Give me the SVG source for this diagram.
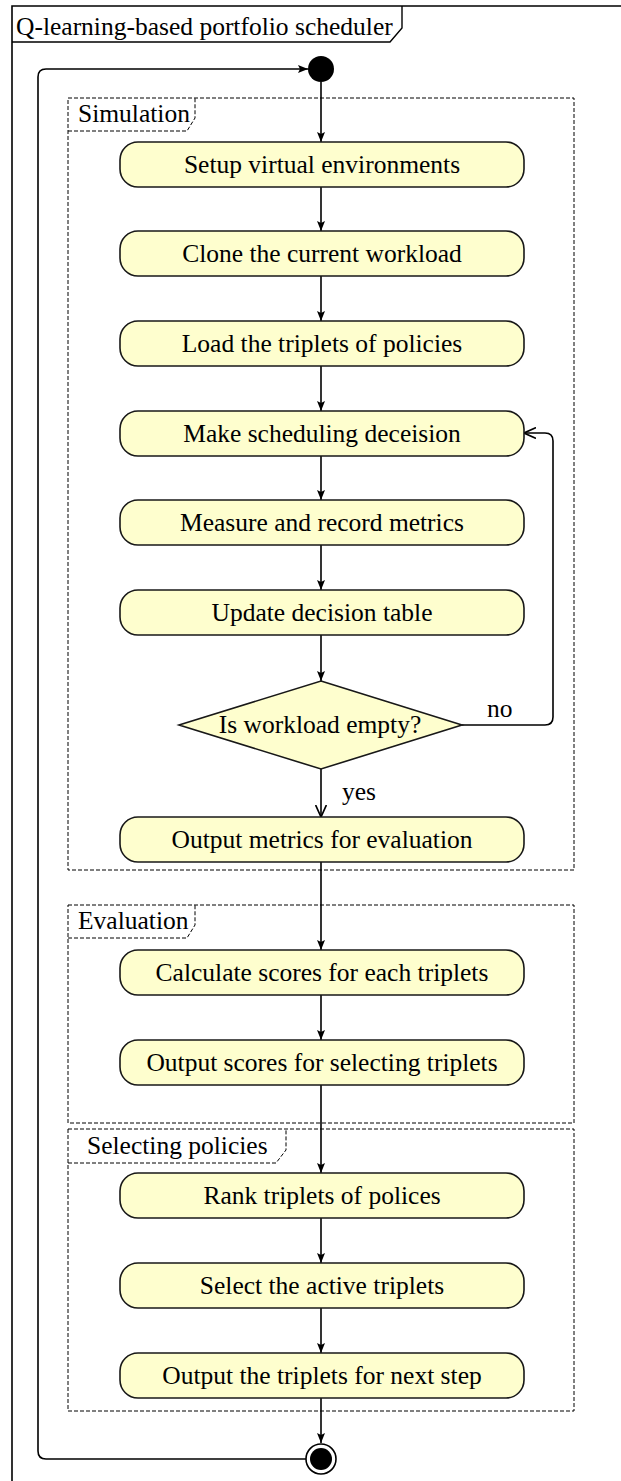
<svg xmlns="http://www.w3.org/2000/svg" width="621" height="1481" viewBox="0 0 621 1481">
<style>
text{font-family:'Liberation Serif','DejaVu Serif',serif;font-size:25.5px;fill:#000}
.n{text-anchor:middle}
.act{fill:#FEFECE;stroke:#181818;stroke-width:1.6}
.part{fill:none;stroke:#000;stroke-width:1;stroke-dasharray:4,2}
.c{fill:none;stroke:#000;stroke-width:1.6}
</style>
<defs>
<marker id="ah" viewBox="0 0 10 10" refX="10" refY="5" markerWidth="10" markerHeight="10" markerUnits="userSpaceOnUse" orient="auto">
<path d="M0,1 L10,5 L0,9 L2,5 Z" fill="#000"/>
</marker>
<marker id="av" viewBox="0 0 10 10" refX="10" refY="5" markerWidth="12" markerHeight="12" markerUnits="userSpaceOnUse" orient="auto">
<path d="M0,0.5 L10,5 L0,9.5" fill="none" stroke="#000" stroke-width="1.4"/>
</marker>
</defs>
<rect width="621" height="1481" fill="#fff"/>
<g id="frame">
<path d="M12,1481 V6 H621" fill="none" stroke="#000" stroke-width="1.6"/>
<path d="M12,42 H390 L402,28 V6" fill="none" stroke="#000" stroke-width="1.4"/>
<text x="16" y="35" font-family="Liberation Serif, serif">Q-learning-based portfolio scheduler</text>
</g>
<g id="simulation">
<rect class="part" x="68" y="98" width="506" height="772"/>
<path class="part" d="M68,131 H187 L195,118 V98"/>
<text x="78" y="122">Simulation</text>
</g>
<g id="evaluation">
<rect class="part" x="68" y="905" width="506" height="218"/>
<path class="part" d="M68,938 H187 L195,925 V905"/>
<text x="78" y="929">Evaluation</text>
</g>
<g id="selecting">
<rect class="part" x="68" y="1129" width="506" height="282"/>
<path class="part" d="M68,1163 H276 L286,1150 V1129"/>
<text x="87" y="1154">Selecting policies</text>
</g>
<g id="connectors">
<line class="c" x1="321" y1="82" x2="321" y2="142" marker-end="url(#ah)"/>
<line class="c" x1="321" y1="187" x2="321" y2="231" marker-end="url(#ah)"/>
<line class="c" x1="321" y1="276" x2="321" y2="321" marker-end="url(#ah)"/>
<line class="c" x1="321" y1="366" x2="321" y2="411" marker-end="url(#ah)"/>
<line class="c" x1="321" y1="456" x2="321" y2="500" marker-end="url(#ah)"/>
<line class="c" x1="321" y1="545" x2="321" y2="590" marker-end="url(#ah)"/>
<line class="c" x1="321" y1="635" x2="321" y2="681" marker-end="url(#ah)"/>
<line class="c" x1="321" y1="769" x2="321" y2="817" marker-end="url(#av)"/>
<path class="c" d="M462,725 H545 Q553,725 553,717 V441 Q553,433 545,433 H524" marker-end="url(#av)"/>
<line class="c" x1="321" y1="862" x2="321" y2="950" marker-end="url(#ah)"/>
<line class="c" x1="321" y1="995" x2="321" y2="1040" marker-end="url(#ah)"/>
<line class="c" x1="321" y1="1085" x2="321" y2="1173" marker-end="url(#ah)"/>
<line class="c" x1="321" y1="1218" x2="321" y2="1263" marker-end="url(#ah)"/>
<line class="c" x1="321" y1="1308" x2="321" y2="1353" marker-end="url(#ah)"/>
<line class="c" x1="321" y1="1398" x2="321" y2="1443" marker-end="url(#ah)"/>
<path class="c" d="M306,1459 H46 Q38,1459 38,1451 V77 Q38,69 46,69 H308" marker-end="url(#ah)"/>
<text x="487" y="717">no</text>
<text x="342" y="800">yes</text>
</g>
<g id="start"><circle cx="321" cy="69" r="13" fill="#000"/></g>
<g id="n1"><rect class="act" x="120" y="142" width="404" height="45" rx="18"/><text class="n" x="322" y="173">Setup virtual environments</text></g>
<g id="n2"><rect class="act" x="120" y="231" width="404" height="45" rx="18"/><text class="n" x="322" y="262">Clone the current workload</text></g>
<g id="n3"><rect class="act" x="120" y="321" width="404" height="45" rx="18"/><text class="n" x="322" y="352">Load the triplets of policies</text></g>
<g id="n4"><rect class="act" x="120" y="411" width="404" height="45" rx="18"/><text class="n" x="322" y="442">Make scheduling deceision</text></g>
<g id="n5"><rect class="act" x="120" y="500" width="404" height="45" rx="18"/><text class="n" x="322" y="531">Measure and record metrics</text></g>
<g id="n6"><rect class="act" x="120" y="590" width="404" height="45" rx="18"/><text class="n" x="322" y="621">Update decision table</text></g>
<g id="d1"><path class="act" d="M321,681 L462,725 L321,769 L179,725 Z"/><text class="n" x="320" y="733">Is workload empty?</text></g>
<g id="n7"><rect class="act" x="120" y="817" width="404" height="45" rx="18"/><text class="n" x="322" y="848">Output metrics for evaluation</text></g>
<g id="n8"><rect class="act" x="120" y="950" width="404" height="45" rx="18"/><text class="n" x="322" y="981">Calculate scores for each triplets</text></g>
<g id="n9"><rect class="act" x="120" y="1040" width="404" height="45" rx="18"/><text class="n" x="322" y="1071">Output scores for selecting triplets</text></g>
<g id="n10"><rect class="act" x="120" y="1173" width="404" height="45" rx="18"/><text class="n" x="322" y="1204">Rank triplets of polices</text></g>
<g id="n11"><rect class="act" x="120" y="1263" width="404" height="45" rx="18"/><text class="n" x="322" y="1294">Select the active triplets</text></g>
<g id="n12"><rect class="act" x="120" y="1353" width="404" height="45" rx="18"/><text class="n" x="322" y="1384">Output the triplets for next step</text></g>
<g id="end"><circle cx="321" cy="1459" r="15" fill="#fff" stroke="#000" stroke-width="1.6"/><circle cx="321" cy="1459" r="11" fill="#000"/></g>
</svg>
